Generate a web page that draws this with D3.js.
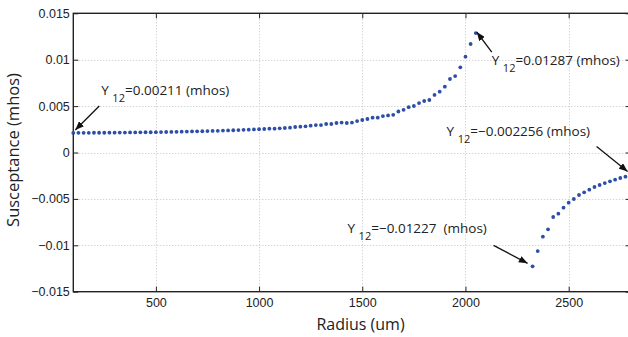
<!DOCTYPE html>
<html>
<head>
<meta charset="utf-8">
<script src="https://cdn.jsdelivr.net/npm/d3@7"></script>
<style>
  html, body { margin: 0; padding: 0; background: #fff; }
  svg { display: block; font-family: "Open Sans", "DejaVu Sans", sans-serif; }
</style>
</head>
<body>
<svg id="chart" width="628" height="337"></svg>
<script>
// 半径 (um) 与 Y12 电纳 (mhos) —— 谐振前的一段
const radiusA = d3.range(100, 2051, 25);
const suscA = [
  0.00211, 0.00212, 0.00212, 0.00212, 0.00213, 0.00213, 0.00213, 0.00214, 0.00214, 0.00215,
  0.00215, 0.00216, 0.00216, 0.00217, 0.00218, 0.00218, 0.00219, 0.00220, 0.00221, 0.00222,
  0.00223, 0.00224, 0.00225, 0.00227, 0.00228, 0.00229, 0.00231, 0.00232, 0.00234, 0.00236,
  0.00238, 0.00240, 0.00242, 0.00244, 0.00246, 0.00249, 0.00251, 0.00253, 0.00257, 0.00257,
  0.00260, 0.00264, 0.00268, 0.00275, 0.00278, 0.00282, 0.00289, 0.00296, 0.00296, 0.00307,
  0.00307, 0.00318, 0.00322, 0.00318, 0.00322, 0.00339, 0.00350, 0.00361, 0.00375, 0.00375,
  0.00393, 0.00400, 0.00406, 0.00442, 0.00460, 0.00488, 0.00501, 0.00533, 0.00555, 0.00566,
  0.00620, 0.00655, 0.00709, 0.00792, 0.00824, 0.00918, 0.01033, 0.01169, 0.01287
];
// 谐振后的一段
const radiusB = d3.range(2325, 2801, 25);
const suscB = [
  -0.01227, -0.01062, -0.00907, -0.00828, -0.00695, -0.00659, -0.00595, -0.00541, -0.00501, -0.00458,
  -0.00429, -0.00401, -0.00372, -0.00350, -0.00329, -0.00311, -0.00293, -0.00275, -0.00260, -0.002256
];

const xTicks = [500, 1000, 1500, 2000, 2500];
const yTicks = [-0.015, -0.01, -0.005, 0, 0.005, 0.01, 0.015];
const yTickLabels = ["\u22120.015", "\u22120.01", "\u22120.005", "0", "0.005", "0.01", "0.015"];

// 标注: 指向的点, 文字 "Y12=..." 的偏移, 箭头起点偏移
const notes = [
  { r: 100,  v: 0.00211,   text: "=0.00211 (mhos)",     tx: 28,  ty: -38, ax: 26,  ay: -27, tipx: 2,  tipy: -3 },
  { r: 2050, v: 0.01287,   text: "=0.01287 (mhos)",     tx: 16,  ty: 32,  ax: 16,  ay: 19,  tipx: 1,  tipy: -1 },
  { r: 2800, v: -0.002256, text: "=\u22120.002256 (mhos)", tx: -184, ty: -37, ax: -34, ay: -27, tipx: -3, tipy: -2 },
  { r: 2325, v: -0.01227,  text: "=\u22120.01227  (mhos)", tx: -185, ty: -33, ax: -39, ay: -21, tipx: -5, tipy: -3 }
];

const margin = { left: 73.3, top: 13.3, right: 630.6, bottom: 291.7 };

const svg = d3.select("#chart");

const x = d3.scaleLinear().domain([100, 2800]).range([margin.left, margin.right]);
const y = d3.scaleLinear().domain([-0.015, 0.015]).range([margin.bottom, margin.top]);

//网格线
const grid = svg.append("g").attr("stroke", "#c4c4c4").attr("stroke-width", 1)
  .attr("stroke-dasharray", "1,2");
grid.selectAll(".gx").data(xTicks).enter().append("line")
  .attr("x1", d => Math.round(x(d)) + 0.5).attr("x2", d => Math.round(x(d)) + 0.5)
  .attr("y1", margin.top).attr("y2", margin.bottom);
grid.selectAll(".gy").data(yTicks.slice(1, -1)).enter().append("line")
  .attr("y1", d => Math.round(y(d)) + 0.5).attr("y2", d => Math.round(y(d)) + 0.5)
  .attr("x1", margin.left).attr("x2", margin.right);

//坐标轴 (刻度朝内)
const tickLen = 5;
const xAxisB = d3.axisBottom(x).tickValues(xTicks).tickSize(-tickLen).tickPadding(6)
  .tickFormat(d3.format("d"));
const yAxisL = d3.axisLeft(y).tickValues(yTicks).tickSize(-tickLen).tickPadding(3.5)
  .tickFormat((d, i) => yTickLabels[i]);
const xAxisT = d3.axisTop(x).tickValues(xTicks).tickSize(-tickLen).tickFormat("");
const yAxisR = d3.axisRight(y).tickValues(yTicks).tickSize(-tickLen).tickFormat("");

function styleAxis(g) {
  g.select(".domain").remove();
  g.selectAll(".tick line").attr("stroke", "#222").attr("stroke-width", 1);
  g.selectAll(".tick text").attr("fill", "#222").attr("font-size", "12.5px");
}
svg.append("g").attr("transform", `translate(0,${margin.bottom})`).call(xAxisB).call(styleAxis);
svg.append("g").attr("transform", `translate(${margin.left},0)`).call(yAxisL).call(styleAxis);
svg.append("g").attr("transform", `translate(0,${margin.top})`).call(xAxisT).call(styleAxis);
svg.append("g").attr("transform", `translate(${margin.right},0)`).call(yAxisR).call(styleAxis);

svg.append("rect")
  .attr("x", margin.left).attr("y", margin.top)
  .attr("width", margin.right - margin.left).attr("height", margin.bottom - margin.top)
  .attr("fill", "none").attr("stroke", "#222").attr("stroke-width", 1.4);

//数据点
const pts = radiusA.map((r, i) => [r, suscA[i]]).concat(radiusB.map((r, i) => [r, suscB[i]]));
svg.append("g").selectAll("circle").data(pts).enter().append("circle")
  .attr("cx", d => x(d[0])).attr("cy", d => y(d[1]))
  .attr("r", 1.9).attr("fill", "#2c4ea6");

//轴标题
svg.append("text").attr("x", 360.5).attr("y", 330)
  .attr("text-anchor", "middle").attr("font-size", "16px").attr("fill", "#222")
  .text("Radius (um)");
svg.append("text").attr("transform", "translate(19,150) rotate(-90)")
  .attr("text-anchor", "middle").attr("font-size", "16.5px").attr("fill", "#222")
  .text("Susceptance (mhos)");

//箭头
svg.append("defs").append("marker")
  .attr("id", "arr").attr("markerUnits", "userSpaceOnUse")
  .attr("viewBox", "0 0 10 8").attr("refX", 10).attr("refY", 4)
  .attr("markerWidth", 9).attr("markerHeight", 7).attr("orient", "auto")
  .append("path").attr("d", "M0,0 L10,4 L0,8 Z").attr("fill", "#111");

notes.forEach(n => {
  const px = x(n.r), py = y(n.v);
  svg.append("line")
    .attr("x1", px + n.ax).attr("y1", py + n.ay)
    .attr("x2", px + n.tipx).attr("y2", py + n.tipy)
    .attr("stroke", "#111").attr("stroke-width", 1.3)
    .attr("marker-end", "url(#arr)");
  const t = svg.append("text")
    .attr("x", px + n.tx).attr("y", py + n.ty)
    .attr("font-size", "13.5px").attr("fill", "#222")
    .style("white-space", "pre");
  t.append("tspan").text("Y ");
  t.append("tspan").attr("dy", 7).attr("font-size", "11px").text("12");
  t.append("tspan").attr("dy", -7).text(n.text);
});
</script>
</body>
</html>
